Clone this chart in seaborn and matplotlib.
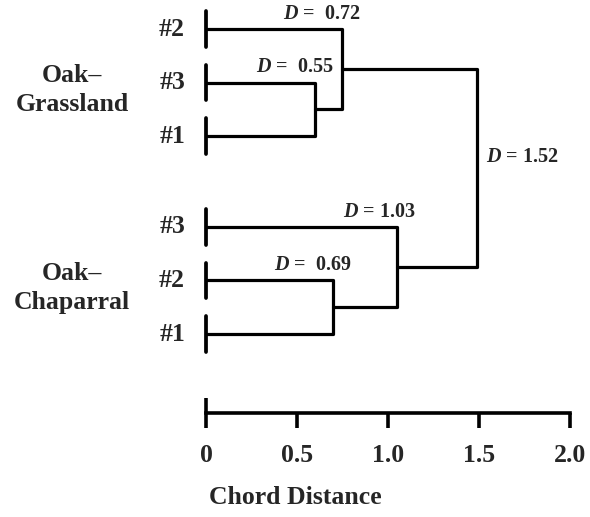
import numpy as np
import pandas as pd
import matplotlib
matplotlib.use("Agg")
import matplotlib.pyplot as plt
import seaborn as sns

# leaves, top to bottom
leaf_labels = ["#2", "#3", "#1", "#3", "#2", "#1"]
leaf_y = [0, 1, 2, 3.7, 4.7, 5.7]
group_labels = ["Oak\u2013\nGrassland", "Oak\u2013\nChaparral"]
group_mid = [1, 4.7]

# merges: node ids 0-5 are leaves, merges get 6,7,...
merge_pairs = [(1, 2), (0, 6), (4, 5), (3, 8), (7, 9)]
merge_h = [0.60, 0.745, 0.70, 1.05, 1.49]   # where they are drawn
merge_txt = [r"$D$ =  0.55", r"$D$ =  0.72", r"$D$ =  0.69", r"$D$ = 1.03", r"$D$ = 1.52"]

tick_vals = [0, 0.5, 1.0, 1.5, 2.0]
tick_txt = ["0", "0.5", "1.0", "1.5", "2.0"]

sns.set_style("white")
plt.rcParams["font.family"] = ["Liberation Serif", "DejaVu Serif"]
plt.rcParams["font.weight"] = "bold"
plt.rcParams["mathtext.fontset"] = "custom"
plt.rcParams["mathtext.it"] = "Liberation Serif:italic:bold"
plt.rcParams["mathtext.rm"] = "Liberation Serif:bold"

# build the line segments of the tree
nodes = [(0.0, y) for y in leaf_y]
rows = []
seg = 0
for (a, b), h in zip(merge_pairs, merge_h):
    xa, ya = nodes[a]
    xb, yb = nodes[b]
    for x, y in [(xa, ya), (h, ya), (h, yb), (xb, yb)]:
        rows.append({"x": x, "y": y, "seg": seg})
    seg += 1
    nodes.append((h, (ya + yb) / 2))
seg_df = pd.DataFrame(rows)

# small vertical bars at the leaves
bar_rows = []
for i, y in enumerate(leaf_y):
    bar_rows.append({"x": 0, "y": y - 0.33, "seg": i})
    bar_rows.append({"x": 0, "y": y + 0.33, "seg": i})
bar_df = pd.DataFrame(bar_rows)

fig = plt.figure(figsize=(5.9, 5.17), dpi=100)
ax = fig.add_axes([0, 0, 1, 1])
sns.lineplot(data=seg_df, x="x", y="y", units="seg", estimator=None, sort=False,
             color="black", lw=2.3, ax=ax, legend=False)
sns.lineplot(data=bar_df, x="x", y="y", units="seg", estimator=None, sort=False,
             color="black", lw=2.7, ax=ax, legend=False)

ax.set_xlim(-1.132, 2.11)
ax.set_ylim(9.12, -0.542)

axis_y = 7.18
for s in ["top", "right", "left"]:
    ax.spines[s].set_visible(False)
ax.spines["bottom"].set_position(("data", axis_y))
ax.spines["bottom"].set_bounds(0, 2)
ax.spines["bottom"].set_linewidth(2.6)
ax.spines["bottom"].set_color("black")
ax.set_yticks([])
ax.set_xticks(tick_vals)
ax.set_xticklabels(tick_txt, fontsize=18.5, fontweight="bold")
ax.tick_params(axis="x", direction="out", length=11, width=2.6, pad=11, bottom=True,
               color="black")
ax.plot([0, 0], [axis_y - 0.29, axis_y], color="black", lw=2.6, solid_capstyle="butt")
ax.set_xlabel("Chord Distance", fontsize=18.5, fontweight="bold", labelpad=14)
ax.set_ylabel("")

for lab, y in zip(leaf_labels, leaf_y):
    ax.text(-0.115, y, lab, ha="right", va="center", fontsize=18.5, fontweight="bold")
for lab, y in zip(group_labels, group_mid):
    ax.text(-0.736, y + 0.14, lab, ha="center", va="center", fontsize=18.5,
            fontweight="bold", linespacing=1.3)

# distance labels
for i, (txt, h) in enumerate(zip(merge_txt, merge_h)):
    a, b = merge_pairs[i]
    top_y = min(nodes[a][1], nodes[b][1])
    if i < 4:
        ax.text(h + 0.1, top_y - 0.1, txt, ha="right", va="bottom", fontsize=14.5,
                fontweight="bold")
    else:
        bot_y = max(nodes[a][1], nodes[b][1])
        ax.text(h + 0.05, (top_y + bot_y) / 2 - 0.2, txt, ha="left", va="center",
                fontsize=14.5, fontweight="bold")

fig.savefig("out.png", dpi=100)
